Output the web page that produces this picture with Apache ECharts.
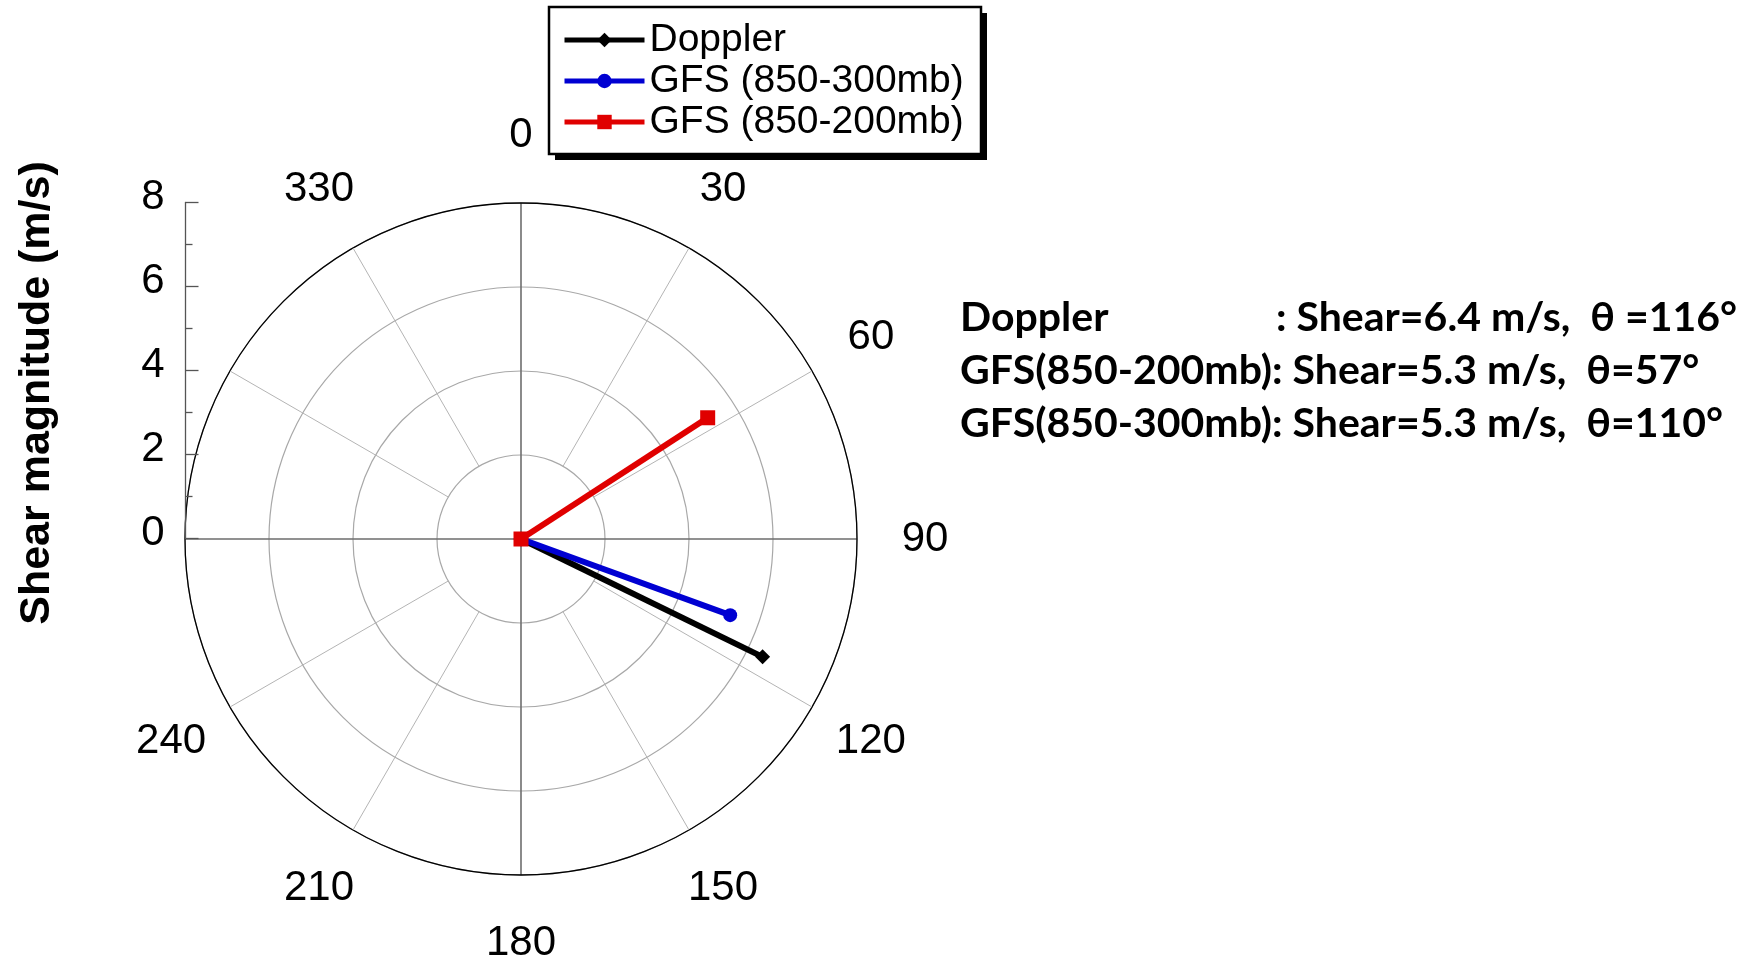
<!DOCTYPE html>
<html>
<head>
<meta charset="utf-8">
<script src="https://cdn.jsdelivr.net/npm/echarts@6/dist/echarts.min.js"></script>
<style>
html,body{margin:0;padding:0;background:#fff;}
#chart{width:1764px;height:958px;}
</style>
</head>
<body>
<div id="chart"></div>
<script>
// ---- data ----
const seriesNames = ['Doppler', 'GFS (850-300mb)', 'GFS (850-200mb)'];
const shearValues = [6.4, 5.3, 5.3];        // m/s
const shearAngles = [116, 110, 57];         // degrees, clockwise from north
const seriesColors = ['#000000', '#0000d2', '#e00000'];
const seriesSymbols = ['diamond', 'circle', 'rect'];
const angleTickLabels = [0, 30, 60, 90, 120, 150, 180, 210, 240, 330];
const spokeAngles = [30, 60, 120, 150, 210, 240, 300, 330];
const radiusTicks = [0, 2, 4, 6, 8];
const noteLines = [
  ['Doppler', ': Shear=6.4 m/s,  \u03b8 =116\u00b0'],
  ['GFS(850-200mb): Shear=5.3 m/s,  \u03b8=57\u00b0', ''],
  ['GFS(850-300mb): Shear=5.3 m/s,  \u03b8=110\u00b0', '']
];

const FONT = '"Liberation Sans", Arial, Helvetica, sans-serif';
const NOTE_FONT = 'bold 41px Lato, "Open Sans", sans-serif';
const CX = 521, CY = 539, R = 336;
const RMAX = 8;
const LABEL_R = 9.62;

const chart = echarts.init(document.getElementById('chart'));

const series = [];
// inner-starting spokes (grid)
spokeAngles.forEach(a => {
  series.push({
    type: 'line', coordinateSystem: 'polar', silent: true, symbol: 'none',
    data: [[2, a], [RMAX, a]],
    lineStyle: {color: '#b4b4b4', width: 1}, z: 1, animation: false
  });
});
// angle labels
series.push({
  type: 'scatter', coordinateSystem: 'polar', silent: true, symbolSize: 2,
  itemStyle: {color: 'rgba(255,255,255,0)'},
  clip: false,
  data: angleTickLabels.map(a => [LABEL_R, a]),
  label: {show: true, position: 'inside', formatter: p => String(p.value[1]),
          fontFamily: FONT, fontSize: 42, color: '#000', textBorderWidth: 0, opacity: 1},
  animation: false
});
// data series
seriesNames.forEach((n, i) => {
  series.push({
    name: n, type: 'line', coordinateSystem: 'polar',
    data: [[0, shearAngles[i]], [shearValues[i], shearAngles[i]]],
    symbol: seriesSymbols[i], symbolSize: i === 0 ? 15 : (i === 1 ? 14 : 15),
    showAllSymbol: true,
    lineStyle: {color: seriesColors[i], width: 6},
    itemStyle: {color: seriesColors[i]},
    z: 5 + i, animation: false
  });
});

const graphics = [
  // legend box shadow + frame
  {type: 'rect', shape: {x: 555, y: 13, width: 432, height: 147}, style: {fill: '#000'}, z: -10},
  {type: 'rect', shape: {x: 549, y: 7, width: 432, height: 147}, style: {fill: '#fff', stroke: '#000', lineWidth: 2.5}, z: -9},
  {type: 'text', x: 37, y: 393, rotation: Math.PI / 2,
   style: {text: 'Shear magnitude (m/s)', font: 'bold 43px ' + FONT, fill: '#000',
           align: 'center', verticalAlign: 'middle'}}
];
noteLines.forEach((t, i) => {
  graphics.push({type: 'text', x: 960, y: 318 + i * 53,
    style: {text: t[0], font: NOTE_FONT, fill: '#000', align: 'left', verticalAlign: 'middle'}});
  if (t[1]) {
    graphics.push({type: 'text', x: 1276, y: 318 + i * 53,
      style: {text: t[1], font: NOTE_FONT, fill: '#000', align: 'left', verticalAlign: 'middle'}});
  }
});

chart.setOption({
  animation: false,
  backgroundColor: '#fff',
  legend: {
    data: seriesNames, orient: 'vertical', left: 562, top: 19.5,
    padding: 0, itemWidth: 80, itemHeight: 18, itemGap: 0,
    textStyle: {fontFamily: FONT, fontSize: 39, color: '#000', lineHeight: 41},
    lineStyle: {width: 5},
    selectedMode: false
  },
  polar: {center: [CX, CY], radius: R},
  angleAxis: {
    type: 'value', min: 0, max: 360, interval: 30, startAngle: 90, clockwise: true,
    axisLine: {show: true, lineStyle: {color: '#000', width: 1.3}},
    axisTick: {show: false}, axisLabel: {show: false},
    splitLine: {show: true, lineStyle: {color: ['#6e6e6e', 'rgba(0,0,0,0)', 'rgba(0,0,0,0)'], width: 1.6}}
  },
  radiusAxis: {
    type: 'value', min: 0, max: RMAX, interval: 2,
    axisLine: {show: false}, axisTick: {show: false}, axisLabel: {show: false},
    splitLine: {show: true, lineStyle: {color: '#a8a8a8', width: 1.2}}
  },
  grid: {left: 185.5, top: 202.5, height: R, width: 20},
  xAxis: {type: 'value', show: false, min: 0, max: 1},
  yAxis: {
    type: 'value', min: radiusTicks[0], max: radiusTicks[radiusTicks.length - 1], interval: 2,
    axisLine: {show: true, lineStyle: {color: '#555', width: 1.3}},
    axisTick: {show: true, inside: true, length: 13, lineStyle: {color: '#555', width: 1.3}},
    minorTick: {show: true, splitNumber: 2, length: 7, lineStyle: {color: '#555', width: 1.3}},
    axisLabel: {margin: 21, fontFamily: FONT, fontSize: 42, color: '#000',
                verticalAlign: 'bottom', lineHeight: 10},
    splitLine: {show: false}
  },
  graphic: graphics,
  series: series
});
</script>
</body>
</html>
